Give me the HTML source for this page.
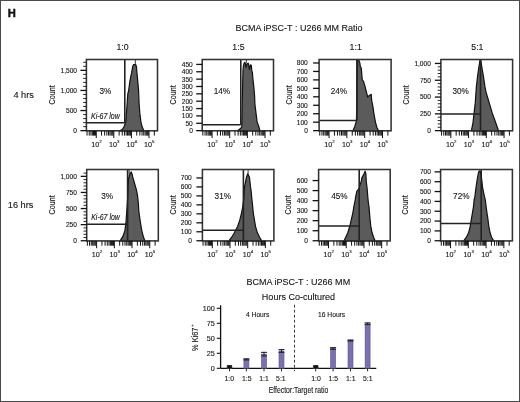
<!DOCTYPE html>
<html><head><meta charset="utf-8"><style>
html,body{margin:0;padding:0;background:#fff;}
body{width:520px;height:402px;overflow:hidden;}
svg{display:block;}
text{font-family:"Liberation Sans", sans-serif;}
</style></head><body>
<svg width="520" height="402" viewBox="0 0 520 402">
<rect x="0" y="0" width="520" height="402" fill="#fff"/>
<path d="M120.0,130.8 L122.5,129.2 L124.0,126.8 L125.8,121.9 L126.4,113.9 L127.1,104.0 L127.8,94.0 L128.6,91.0 L129.8,81.6 L131.7,72.2 L132.8,66.0 L133.6,64.6 L135.8,64.6 L136.5,67.0 L136.9,72.2 L137.8,81.6 L138.6,91.0 L139.1,104.0 L139.9,113.9 L140.9,121.9 L142.1,126.8 L143.9,130.8 Z" fill="#5b5b5b" stroke="#111" stroke-width="1.2" stroke-linejoin="round"/>
<line x1="86.40" y1="122.80" x2="124.80" y2="122.80" stroke="#222" stroke-width="1.5"/>
<line x1="124.80" y1="59.50" x2="124.80" y2="122.80" stroke="#222" stroke-width="1.6"/>
<line x1="135.30" y1="59.50" x2="135.30" y2="64.60" stroke="#222" stroke-width="0.9"/>
<rect x="86.40" y="59.50" width="71.10" height="71.30" fill="none" stroke="#333" stroke-width="1.55"/>
<line x1="80.40" y1="130.65" x2="86.40" y2="130.65" stroke="#111" stroke-width="1.3"/>
<line x1="83.20" y1="126.63" x2="86.40" y2="126.63" stroke="#111" stroke-width="0.9"/>
<line x1="83.20" y1="122.61" x2="86.40" y2="122.61" stroke="#111" stroke-width="0.9"/>
<line x1="83.20" y1="118.59" x2="86.40" y2="118.59" stroke="#111" stroke-width="0.9"/>
<line x1="83.20" y1="114.57" x2="86.40" y2="114.57" stroke="#111" stroke-width="0.9"/>
<line x1="80.40" y1="110.55" x2="86.40" y2="110.55" stroke="#111" stroke-width="1.3"/>
<line x1="83.20" y1="106.53" x2="86.40" y2="106.53" stroke="#111" stroke-width="0.9"/>
<line x1="83.20" y1="102.51" x2="86.40" y2="102.51" stroke="#111" stroke-width="0.9"/>
<line x1="83.20" y1="98.49" x2="86.40" y2="98.49" stroke="#111" stroke-width="0.9"/>
<line x1="83.20" y1="94.47" x2="86.40" y2="94.47" stroke="#111" stroke-width="0.9"/>
<line x1="80.40" y1="90.45" x2="86.40" y2="90.45" stroke="#111" stroke-width="1.3"/>
<line x1="83.20" y1="86.43" x2="86.40" y2="86.43" stroke="#111" stroke-width="0.9"/>
<line x1="83.20" y1="82.41" x2="86.40" y2="82.41" stroke="#111" stroke-width="0.9"/>
<line x1="83.20" y1="78.39" x2="86.40" y2="78.39" stroke="#111" stroke-width="0.9"/>
<line x1="83.20" y1="74.37" x2="86.40" y2="74.37" stroke="#111" stroke-width="0.9"/>
<line x1="80.40" y1="70.35" x2="86.40" y2="70.35" stroke="#111" stroke-width="1.3"/>
<line x1="83.20" y1="66.33" x2="86.40" y2="66.33" stroke="#111" stroke-width="0.9"/>
<line x1="83.20" y1="62.31" x2="86.40" y2="62.31" stroke="#111" stroke-width="0.9"/>
<line x1="87.05" y1="130.80" x2="87.05" y2="135.60" stroke="#111" stroke-width="1.0"/>
<line x1="89.24" y1="130.80" x2="89.24" y2="135.60" stroke="#111" stroke-width="1.0"/>
<line x1="90.95" y1="130.80" x2="90.95" y2="135.60" stroke="#111" stroke-width="1.0"/>
<line x1="92.34" y1="130.80" x2="92.34" y2="135.60" stroke="#111" stroke-width="1.0"/>
<line x1="93.52" y1="130.80" x2="93.52" y2="135.60" stroke="#111" stroke-width="1.0"/>
<line x1="94.54" y1="130.80" x2="94.54" y2="135.60" stroke="#111" stroke-width="1.0"/>
<line x1="95.44" y1="130.80" x2="95.44" y2="135.60" stroke="#111" stroke-width="1.0"/>
<line x1="96.25" y1="130.80" x2="96.25" y2="138.10" stroke="#111" stroke-width="1.0"/>
<line x1="101.54" y1="130.80" x2="101.54" y2="135.60" stroke="#111" stroke-width="1.0"/>
<line x1="104.64" y1="130.80" x2="104.64" y2="135.60" stroke="#111" stroke-width="1.0"/>
<line x1="106.84" y1="130.80" x2="106.84" y2="135.60" stroke="#111" stroke-width="1.0"/>
<line x1="108.55" y1="130.80" x2="108.55" y2="135.60" stroke="#111" stroke-width="1.0"/>
<line x1="109.94" y1="130.80" x2="109.94" y2="135.60" stroke="#111" stroke-width="1.0"/>
<line x1="111.12" y1="130.80" x2="111.12" y2="135.60" stroke="#111" stroke-width="1.0"/>
<line x1="112.14" y1="130.80" x2="112.14" y2="135.60" stroke="#111" stroke-width="1.0"/>
<line x1="113.04" y1="130.80" x2="113.04" y2="135.60" stroke="#111" stroke-width="1.0"/>
<line x1="113.84" y1="130.80" x2="113.84" y2="138.10" stroke="#111" stroke-width="1.0"/>
<line x1="119.14" y1="130.80" x2="119.14" y2="135.60" stroke="#111" stroke-width="1.0"/>
<line x1="122.24" y1="130.80" x2="122.24" y2="135.60" stroke="#111" stroke-width="1.0"/>
<line x1="124.44" y1="130.80" x2="124.44" y2="135.60" stroke="#111" stroke-width="1.0"/>
<line x1="126.14" y1="130.80" x2="126.14" y2="135.60" stroke="#111" stroke-width="1.0"/>
<line x1="127.54" y1="130.80" x2="127.54" y2="135.60" stroke="#111" stroke-width="1.0"/>
<line x1="128.72" y1="130.80" x2="128.72" y2="135.60" stroke="#111" stroke-width="1.0"/>
<line x1="129.74" y1="130.80" x2="129.74" y2="135.60" stroke="#111" stroke-width="1.0"/>
<line x1="130.64" y1="130.80" x2="130.64" y2="135.60" stroke="#111" stroke-width="1.0"/>
<line x1="131.44" y1="130.80" x2="131.44" y2="138.10" stroke="#111" stroke-width="1.0"/>
<line x1="136.74" y1="130.80" x2="136.74" y2="135.60" stroke="#111" stroke-width="1.0"/>
<line x1="139.84" y1="130.80" x2="139.84" y2="135.60" stroke="#111" stroke-width="1.0"/>
<line x1="142.04" y1="130.80" x2="142.04" y2="135.60" stroke="#111" stroke-width="1.0"/>
<line x1="143.74" y1="130.80" x2="143.74" y2="135.60" stroke="#111" stroke-width="1.0"/>
<line x1="145.14" y1="130.80" x2="145.14" y2="135.60" stroke="#111" stroke-width="1.0"/>
<line x1="146.31" y1="130.80" x2="146.31" y2="135.60" stroke="#111" stroke-width="1.0"/>
<line x1="147.33" y1="130.80" x2="147.33" y2="135.60" stroke="#111" stroke-width="1.0"/>
<line x1="148.23" y1="130.80" x2="148.23" y2="135.60" stroke="#111" stroke-width="1.0"/>
<line x1="149.04" y1="130.80" x2="149.04" y2="138.10" stroke="#111" stroke-width="1.0"/>
<line x1="154.34" y1="130.80" x2="154.34" y2="135.60" stroke="#111" stroke-width="1.0"/>
<path d="M237.5,130.8 L240.5,128.5 L241.8,126.8 L242.3,100.0 L243.0,70.0 L243.4,66.0 L244.2,63.0 L244.8,62.5 L245.4,63.5 L246.0,67.5 L246.5,65.5 L247.2,63.8 L248.2,63.2 L248.8,65.0 L249.4,69.5 L250.0,67.0 L250.6,64.8 L251.2,65.2 L251.6,68.0 L251.9,71.2 L252.4,72.5 L252.9,78.8 L253.8,86.3 L254.6,96.0 L254.9,104.0 L256.1,113.9 L257.1,121.9 L258.9,126.8 L260.0,130.8 Z" fill="#5b5b5b" stroke="#111" stroke-width="1.2" stroke-linejoin="round"/>
<line x1="202.20" y1="124.80" x2="240.80" y2="124.80" stroke="#222" stroke-width="1.5"/>
<line x1="240.80" y1="59.50" x2="240.80" y2="124.80" stroke="#222" stroke-width="1.6"/>
<line x1="246.30" y1="59.50" x2="246.30" y2="63.50" stroke="#222" stroke-width="0.9"/>
<rect x="202.20" y="59.50" width="71.30" height="71.30" fill="none" stroke="#333" stroke-width="1.55"/>
<line x1="196.20" y1="130.65" x2="202.20" y2="130.65" stroke="#111" stroke-width="1.3"/>
<line x1="196.20" y1="123.29" x2="202.20" y2="123.29" stroke="#111" stroke-width="1.3"/>
<line x1="196.20" y1="115.93" x2="202.20" y2="115.93" stroke="#111" stroke-width="1.3"/>
<line x1="196.20" y1="108.57" x2="202.20" y2="108.57" stroke="#111" stroke-width="1.3"/>
<line x1="196.20" y1="101.21" x2="202.20" y2="101.21" stroke="#111" stroke-width="1.3"/>
<line x1="196.20" y1="93.85" x2="202.20" y2="93.85" stroke="#111" stroke-width="1.3"/>
<line x1="196.20" y1="86.49" x2="202.20" y2="86.49" stroke="#111" stroke-width="1.3"/>
<line x1="196.20" y1="79.13" x2="202.20" y2="79.13" stroke="#111" stroke-width="1.3"/>
<line x1="196.20" y1="71.77" x2="202.20" y2="71.77" stroke="#111" stroke-width="1.3"/>
<line x1="196.20" y1="64.41" x2="202.20" y2="64.41" stroke="#111" stroke-width="1.3"/>
<line x1="202.85" y1="130.80" x2="202.85" y2="135.60" stroke="#111" stroke-width="1.0"/>
<line x1="205.05" y1="130.80" x2="205.05" y2="135.60" stroke="#111" stroke-width="1.0"/>
<line x1="206.76" y1="130.80" x2="206.76" y2="135.60" stroke="#111" stroke-width="1.0"/>
<line x1="208.16" y1="130.80" x2="208.16" y2="135.60" stroke="#111" stroke-width="1.0"/>
<line x1="209.34" y1="130.80" x2="209.34" y2="135.60" stroke="#111" stroke-width="1.0"/>
<line x1="210.36" y1="130.80" x2="210.36" y2="135.60" stroke="#111" stroke-width="1.0"/>
<line x1="211.27" y1="130.80" x2="211.27" y2="135.60" stroke="#111" stroke-width="1.0"/>
<line x1="212.08" y1="130.80" x2="212.08" y2="138.10" stroke="#111" stroke-width="1.0"/>
<line x1="217.39" y1="130.80" x2="217.39" y2="135.60" stroke="#111" stroke-width="1.0"/>
<line x1="220.49" y1="130.80" x2="220.49" y2="135.60" stroke="#111" stroke-width="1.0"/>
<line x1="222.70" y1="130.80" x2="222.70" y2="135.60" stroke="#111" stroke-width="1.0"/>
<line x1="224.41" y1="130.80" x2="224.41" y2="135.60" stroke="#111" stroke-width="1.0"/>
<line x1="225.81" y1="130.80" x2="225.81" y2="135.60" stroke="#111" stroke-width="1.0"/>
<line x1="226.99" y1="130.80" x2="226.99" y2="135.60" stroke="#111" stroke-width="1.0"/>
<line x1="228.01" y1="130.80" x2="228.01" y2="135.60" stroke="#111" stroke-width="1.0"/>
<line x1="228.91" y1="130.80" x2="228.91" y2="135.60" stroke="#111" stroke-width="1.0"/>
<line x1="229.72" y1="130.80" x2="229.72" y2="138.10" stroke="#111" stroke-width="1.0"/>
<line x1="235.03" y1="130.80" x2="235.03" y2="135.60" stroke="#111" stroke-width="1.0"/>
<line x1="238.14" y1="130.80" x2="238.14" y2="135.60" stroke="#111" stroke-width="1.0"/>
<line x1="240.35" y1="130.80" x2="240.35" y2="135.60" stroke="#111" stroke-width="1.0"/>
<line x1="242.06" y1="130.80" x2="242.06" y2="135.60" stroke="#111" stroke-width="1.0"/>
<line x1="243.45" y1="130.80" x2="243.45" y2="135.60" stroke="#111" stroke-width="1.0"/>
<line x1="244.64" y1="130.80" x2="244.64" y2="135.60" stroke="#111" stroke-width="1.0"/>
<line x1="245.66" y1="130.80" x2="245.66" y2="135.60" stroke="#111" stroke-width="1.0"/>
<line x1="246.56" y1="130.80" x2="246.56" y2="135.60" stroke="#111" stroke-width="1.0"/>
<line x1="247.37" y1="130.80" x2="247.37" y2="138.10" stroke="#111" stroke-width="1.0"/>
<line x1="252.68" y1="130.80" x2="252.68" y2="135.60" stroke="#111" stroke-width="1.0"/>
<line x1="255.79" y1="130.80" x2="255.79" y2="135.60" stroke="#111" stroke-width="1.0"/>
<line x1="257.99" y1="130.80" x2="257.99" y2="135.60" stroke="#111" stroke-width="1.0"/>
<line x1="259.70" y1="130.80" x2="259.70" y2="135.60" stroke="#111" stroke-width="1.0"/>
<line x1="261.10" y1="130.80" x2="261.10" y2="135.60" stroke="#111" stroke-width="1.0"/>
<line x1="262.28" y1="130.80" x2="262.28" y2="135.60" stroke="#111" stroke-width="1.0"/>
<line x1="263.31" y1="130.80" x2="263.31" y2="135.60" stroke="#111" stroke-width="1.0"/>
<line x1="264.21" y1="130.80" x2="264.21" y2="135.60" stroke="#111" stroke-width="1.0"/>
<line x1="265.02" y1="130.80" x2="265.02" y2="138.10" stroke="#111" stroke-width="1.0"/>
<line x1="270.33" y1="130.80" x2="270.33" y2="135.60" stroke="#111" stroke-width="1.0"/>
<path d="M352.9,130.8 L354.6,126.9 L356.4,121.2 L356.9,100.0 L357.1,75.0 L357.3,60.0 L358.6,59.8 L359.8,62.7 L360.3,66.5 L361.2,67.9 L361.7,73.1 L362.2,79.7 L363.6,81.6 L365.0,86.4 L366.6,92.6 L367.7,97.2 L368.5,96.0 L369.5,95.4 L371.2,94.3 L371.7,100.6 L372.9,106.3 L374.0,114.3 L375.5,122.3 L376.9,127.5 L378.6,130.8 Z" fill="#5b5b5b" stroke="#111" stroke-width="1.2" stroke-linejoin="round"/>
<line x1="319.10" y1="120.60" x2="356.90" y2="120.60" stroke="#222" stroke-width="1.5"/>
<line x1="356.90" y1="59.50" x2="356.90" y2="120.60" stroke="#222" stroke-width="1.6"/>
<rect x="319.10" y="59.50" width="72.00" height="71.30" fill="none" stroke="#333" stroke-width="1.55"/>
<line x1="313.10" y1="130.65" x2="319.10" y2="130.65" stroke="#111" stroke-width="1.3"/>
<line x1="313.10" y1="122.19" x2="319.10" y2="122.19" stroke="#111" stroke-width="1.3"/>
<line x1="313.10" y1="113.73" x2="319.10" y2="113.73" stroke="#111" stroke-width="1.3"/>
<line x1="313.10" y1="105.27" x2="319.10" y2="105.27" stroke="#111" stroke-width="1.3"/>
<line x1="313.10" y1="96.81" x2="319.10" y2="96.81" stroke="#111" stroke-width="1.3"/>
<line x1="313.10" y1="88.35" x2="319.10" y2="88.35" stroke="#111" stroke-width="1.3"/>
<line x1="313.10" y1="79.89" x2="319.10" y2="79.89" stroke="#111" stroke-width="1.3"/>
<line x1="313.10" y1="71.43" x2="319.10" y2="71.43" stroke="#111" stroke-width="1.3"/>
<line x1="313.10" y1="62.97" x2="319.10" y2="62.97" stroke="#111" stroke-width="1.3"/>
<line x1="319.75" y1="130.80" x2="319.75" y2="135.60" stroke="#111" stroke-width="1.0"/>
<line x1="321.98" y1="130.80" x2="321.98" y2="135.60" stroke="#111" stroke-width="1.0"/>
<line x1="323.71" y1="130.80" x2="323.71" y2="135.60" stroke="#111" stroke-width="1.0"/>
<line x1="325.12" y1="130.80" x2="325.12" y2="135.60" stroke="#111" stroke-width="1.0"/>
<line x1="326.31" y1="130.80" x2="326.31" y2="135.60" stroke="#111" stroke-width="1.0"/>
<line x1="327.35" y1="130.80" x2="327.35" y2="135.60" stroke="#111" stroke-width="1.0"/>
<line x1="328.26" y1="130.80" x2="328.26" y2="135.60" stroke="#111" stroke-width="1.0"/>
<line x1="329.07" y1="130.80" x2="329.07" y2="138.10" stroke="#111" stroke-width="1.0"/>
<line x1="334.44" y1="130.80" x2="334.44" y2="135.60" stroke="#111" stroke-width="1.0"/>
<line x1="337.57" y1="130.80" x2="337.57" y2="135.60" stroke="#111" stroke-width="1.0"/>
<line x1="339.80" y1="130.80" x2="339.80" y2="135.60" stroke="#111" stroke-width="1.0"/>
<line x1="341.53" y1="130.80" x2="341.53" y2="135.60" stroke="#111" stroke-width="1.0"/>
<line x1="342.94" y1="130.80" x2="342.94" y2="135.60" stroke="#111" stroke-width="1.0"/>
<line x1="344.13" y1="130.80" x2="344.13" y2="135.60" stroke="#111" stroke-width="1.0"/>
<line x1="345.17" y1="130.80" x2="345.17" y2="135.60" stroke="#111" stroke-width="1.0"/>
<line x1="346.08" y1="130.80" x2="346.08" y2="135.60" stroke="#111" stroke-width="1.0"/>
<line x1="346.89" y1="130.80" x2="346.89" y2="138.10" stroke="#111" stroke-width="1.0"/>
<line x1="352.26" y1="130.80" x2="352.26" y2="135.60" stroke="#111" stroke-width="1.0"/>
<line x1="355.39" y1="130.80" x2="355.39" y2="135.60" stroke="#111" stroke-width="1.0"/>
<line x1="357.62" y1="130.80" x2="357.62" y2="135.60" stroke="#111" stroke-width="1.0"/>
<line x1="359.35" y1="130.80" x2="359.35" y2="135.60" stroke="#111" stroke-width="1.0"/>
<line x1="360.76" y1="130.80" x2="360.76" y2="135.60" stroke="#111" stroke-width="1.0"/>
<line x1="361.95" y1="130.80" x2="361.95" y2="135.60" stroke="#111" stroke-width="1.0"/>
<line x1="362.99" y1="130.80" x2="362.99" y2="135.60" stroke="#111" stroke-width="1.0"/>
<line x1="363.90" y1="130.80" x2="363.90" y2="135.60" stroke="#111" stroke-width="1.0"/>
<line x1="364.71" y1="130.80" x2="364.71" y2="138.10" stroke="#111" stroke-width="1.0"/>
<line x1="370.08" y1="130.80" x2="370.08" y2="135.60" stroke="#111" stroke-width="1.0"/>
<line x1="373.21" y1="130.80" x2="373.21" y2="135.60" stroke="#111" stroke-width="1.0"/>
<line x1="375.44" y1="130.80" x2="375.44" y2="135.60" stroke="#111" stroke-width="1.0"/>
<line x1="377.17" y1="130.80" x2="377.17" y2="135.60" stroke="#111" stroke-width="1.0"/>
<line x1="378.58" y1="130.80" x2="378.58" y2="135.60" stroke="#111" stroke-width="1.0"/>
<line x1="379.77" y1="130.80" x2="379.77" y2="135.60" stroke="#111" stroke-width="1.0"/>
<line x1="380.81" y1="130.80" x2="380.81" y2="135.60" stroke="#111" stroke-width="1.0"/>
<line x1="381.72" y1="130.80" x2="381.72" y2="135.60" stroke="#111" stroke-width="1.0"/>
<line x1="382.53" y1="130.80" x2="382.53" y2="138.10" stroke="#111" stroke-width="1.0"/>
<line x1="387.90" y1="130.80" x2="387.90" y2="135.60" stroke="#111" stroke-width="1.0"/>
<path d="M471.3,130.8 L472.9,123.3 L474.1,112.9 L475.3,102.4 L476.0,92.0 L476.4,86.4 L477.5,76.9 L478.8,67.5 L480.0,60.0 L480.8,60.0 L481.9,67.5 L483.5,76.9 L484.9,86.4 L486.2,93.0 L487.3,96.5 L489.1,102.4 L492.2,112.9 L495.9,123.3 L498.5,130.8 Z" fill="#5b5b5b" stroke="#111" stroke-width="1.2" stroke-linejoin="round"/>
<line x1="440.90" y1="114.10" x2="480.50" y2="114.10" stroke="#222" stroke-width="1.5"/>
<line x1="480.50" y1="59.50" x2="480.50" y2="130.80" stroke="#222" stroke-width="1.6"/>
<rect x="440.90" y="59.50" width="71.70" height="71.30" fill="none" stroke="#333" stroke-width="1.55"/>
<line x1="434.90" y1="130.65" x2="440.90" y2="130.65" stroke="#111" stroke-width="1.3"/>
<line x1="437.70" y1="127.29" x2="440.90" y2="127.29" stroke="#111" stroke-width="0.9"/>
<line x1="437.70" y1="123.93" x2="440.90" y2="123.93" stroke="#111" stroke-width="0.9"/>
<line x1="437.70" y1="120.57" x2="440.90" y2="120.57" stroke="#111" stroke-width="0.9"/>
<line x1="437.70" y1="117.21" x2="440.90" y2="117.21" stroke="#111" stroke-width="0.9"/>
<line x1="434.90" y1="113.85" x2="440.90" y2="113.85" stroke="#111" stroke-width="1.3"/>
<line x1="437.70" y1="110.49" x2="440.90" y2="110.49" stroke="#111" stroke-width="0.9"/>
<line x1="437.70" y1="107.13" x2="440.90" y2="107.13" stroke="#111" stroke-width="0.9"/>
<line x1="437.70" y1="103.77" x2="440.90" y2="103.77" stroke="#111" stroke-width="0.9"/>
<line x1="437.70" y1="100.41" x2="440.90" y2="100.41" stroke="#111" stroke-width="0.9"/>
<line x1="434.90" y1="97.05" x2="440.90" y2="97.05" stroke="#111" stroke-width="1.3"/>
<line x1="437.70" y1="93.69" x2="440.90" y2="93.69" stroke="#111" stroke-width="0.9"/>
<line x1="437.70" y1="90.33" x2="440.90" y2="90.33" stroke="#111" stroke-width="0.9"/>
<line x1="437.70" y1="86.97" x2="440.90" y2="86.97" stroke="#111" stroke-width="0.9"/>
<line x1="437.70" y1="83.61" x2="440.90" y2="83.61" stroke="#111" stroke-width="0.9"/>
<line x1="434.90" y1="80.25" x2="440.90" y2="80.25" stroke="#111" stroke-width="1.3"/>
<line x1="437.70" y1="76.89" x2="440.90" y2="76.89" stroke="#111" stroke-width="0.9"/>
<line x1="437.70" y1="73.53" x2="440.90" y2="73.53" stroke="#111" stroke-width="0.9"/>
<line x1="437.70" y1="70.17" x2="440.90" y2="70.17" stroke="#111" stroke-width="0.9"/>
<line x1="437.70" y1="66.81" x2="440.90" y2="66.81" stroke="#111" stroke-width="0.9"/>
<line x1="434.90" y1="63.45" x2="440.90" y2="63.45" stroke="#111" stroke-width="1.3"/>
<line x1="441.55" y1="130.80" x2="441.55" y2="135.60" stroke="#111" stroke-width="1.0"/>
<line x1="443.77" y1="130.80" x2="443.77" y2="135.60" stroke="#111" stroke-width="1.0"/>
<line x1="445.49" y1="130.80" x2="445.49" y2="135.60" stroke="#111" stroke-width="1.0"/>
<line x1="446.89" y1="130.80" x2="446.89" y2="135.60" stroke="#111" stroke-width="1.0"/>
<line x1="448.08" y1="130.80" x2="448.08" y2="135.60" stroke="#111" stroke-width="1.0"/>
<line x1="449.11" y1="130.80" x2="449.11" y2="135.60" stroke="#111" stroke-width="1.0"/>
<line x1="450.02" y1="130.80" x2="450.02" y2="135.60" stroke="#111" stroke-width="1.0"/>
<line x1="450.83" y1="130.80" x2="450.83" y2="138.10" stroke="#111" stroke-width="1.0"/>
<line x1="456.17" y1="130.80" x2="456.17" y2="135.60" stroke="#111" stroke-width="1.0"/>
<line x1="459.30" y1="130.80" x2="459.30" y2="135.60" stroke="#111" stroke-width="1.0"/>
<line x1="461.51" y1="130.80" x2="461.51" y2="135.60" stroke="#111" stroke-width="1.0"/>
<line x1="463.23" y1="130.80" x2="463.23" y2="135.60" stroke="#111" stroke-width="1.0"/>
<line x1="464.64" y1="130.80" x2="464.64" y2="135.60" stroke="#111" stroke-width="1.0"/>
<line x1="465.83" y1="130.80" x2="465.83" y2="135.60" stroke="#111" stroke-width="1.0"/>
<line x1="466.86" y1="130.80" x2="466.86" y2="135.60" stroke="#111" stroke-width="1.0"/>
<line x1="467.76" y1="130.80" x2="467.76" y2="135.60" stroke="#111" stroke-width="1.0"/>
<line x1="468.58" y1="130.80" x2="468.58" y2="138.10" stroke="#111" stroke-width="1.0"/>
<line x1="473.92" y1="130.80" x2="473.92" y2="135.60" stroke="#111" stroke-width="1.0"/>
<line x1="477.04" y1="130.80" x2="477.04" y2="135.60" stroke="#111" stroke-width="1.0"/>
<line x1="479.26" y1="130.80" x2="479.26" y2="135.60" stroke="#111" stroke-width="1.0"/>
<line x1="480.98" y1="130.80" x2="480.98" y2="135.60" stroke="#111" stroke-width="1.0"/>
<line x1="482.39" y1="130.80" x2="482.39" y2="135.60" stroke="#111" stroke-width="1.0"/>
<line x1="483.57" y1="130.80" x2="483.57" y2="135.60" stroke="#111" stroke-width="1.0"/>
<line x1="484.60" y1="130.80" x2="484.60" y2="135.60" stroke="#111" stroke-width="1.0"/>
<line x1="485.51" y1="130.80" x2="485.51" y2="135.60" stroke="#111" stroke-width="1.0"/>
<line x1="486.32" y1="130.80" x2="486.32" y2="138.10" stroke="#111" stroke-width="1.0"/>
<line x1="491.66" y1="130.80" x2="491.66" y2="135.60" stroke="#111" stroke-width="1.0"/>
<line x1="494.79" y1="130.80" x2="494.79" y2="135.60" stroke="#111" stroke-width="1.0"/>
<line x1="497.01" y1="130.80" x2="497.01" y2="135.60" stroke="#111" stroke-width="1.0"/>
<line x1="498.73" y1="130.80" x2="498.73" y2="135.60" stroke="#111" stroke-width="1.0"/>
<line x1="500.13" y1="130.80" x2="500.13" y2="135.60" stroke="#111" stroke-width="1.0"/>
<line x1="501.32" y1="130.80" x2="501.32" y2="135.60" stroke="#111" stroke-width="1.0"/>
<line x1="502.35" y1="130.80" x2="502.35" y2="135.60" stroke="#111" stroke-width="1.0"/>
<line x1="503.26" y1="130.80" x2="503.26" y2="135.60" stroke="#111" stroke-width="1.0"/>
<line x1="504.07" y1="130.80" x2="504.07" y2="138.10" stroke="#111" stroke-width="1.0"/>
<line x1="509.41" y1="130.80" x2="509.41" y2="135.60" stroke="#111" stroke-width="1.0"/>
<path d="M120.2,240.9 L123.0,236.1 L124.9,230.7 L126.0,221.9 L126.8,211.0 L127.3,204.0 L127.8,195.0 L128.2,185.0 L128.6,178.0 L129.5,175.5 L130.5,172.8 L131.3,172.0 L132.2,174.5 L132.8,177.5 L133.6,180.0 L135.3,186.0 L136.5,190.1 L137.4,194.9 L138.0,199.7 L138.4,204.0 L138.8,211.0 L140.3,221.9 L141.8,230.7 L143.2,236.1 L144.9,240.9 Z" fill="#5b5b5b" stroke="#111" stroke-width="1.2" stroke-linejoin="round"/>
<line x1="86.70" y1="224.20" x2="127.60" y2="224.20" stroke="#222" stroke-width="1.5"/>
<line x1="127.60" y1="169.50" x2="127.60" y2="240.90" stroke="#222" stroke-width="1.6"/>
<line x1="129.20" y1="169.50" x2="129.20" y2="176.00" stroke="#222" stroke-width="0.9"/>
<rect x="86.70" y="169.50" width="71.60" height="71.40" fill="none" stroke="#333" stroke-width="1.55"/>
<line x1="80.70" y1="240.75" x2="86.70" y2="240.75" stroke="#111" stroke-width="1.3"/>
<line x1="83.50" y1="237.53" x2="86.70" y2="237.53" stroke="#111" stroke-width="0.9"/>
<line x1="83.50" y1="234.31" x2="86.70" y2="234.31" stroke="#111" stroke-width="0.9"/>
<line x1="83.50" y1="231.09" x2="86.70" y2="231.09" stroke="#111" stroke-width="0.9"/>
<line x1="83.50" y1="227.87" x2="86.70" y2="227.87" stroke="#111" stroke-width="0.9"/>
<line x1="80.70" y1="224.65" x2="86.70" y2="224.65" stroke="#111" stroke-width="1.3"/>
<line x1="83.50" y1="221.43" x2="86.70" y2="221.43" stroke="#111" stroke-width="0.9"/>
<line x1="83.50" y1="218.21" x2="86.70" y2="218.21" stroke="#111" stroke-width="0.9"/>
<line x1="83.50" y1="214.99" x2="86.70" y2="214.99" stroke="#111" stroke-width="0.9"/>
<line x1="83.50" y1="211.77" x2="86.70" y2="211.77" stroke="#111" stroke-width="0.9"/>
<line x1="80.70" y1="208.55" x2="86.70" y2="208.55" stroke="#111" stroke-width="1.3"/>
<line x1="83.50" y1="205.33" x2="86.70" y2="205.33" stroke="#111" stroke-width="0.9"/>
<line x1="83.50" y1="202.11" x2="86.70" y2="202.11" stroke="#111" stroke-width="0.9"/>
<line x1="83.50" y1="198.89" x2="86.70" y2="198.89" stroke="#111" stroke-width="0.9"/>
<line x1="83.50" y1="195.67" x2="86.70" y2="195.67" stroke="#111" stroke-width="0.9"/>
<line x1="80.70" y1="192.45" x2="86.70" y2="192.45" stroke="#111" stroke-width="1.3"/>
<line x1="83.50" y1="189.23" x2="86.70" y2="189.23" stroke="#111" stroke-width="0.9"/>
<line x1="83.50" y1="186.01" x2="86.70" y2="186.01" stroke="#111" stroke-width="0.9"/>
<line x1="83.50" y1="182.79" x2="86.70" y2="182.79" stroke="#111" stroke-width="0.9"/>
<line x1="83.50" y1="179.57" x2="86.70" y2="179.57" stroke="#111" stroke-width="0.9"/>
<line x1="80.70" y1="176.35" x2="86.70" y2="176.35" stroke="#111" stroke-width="1.3"/>
<line x1="83.50" y1="173.13" x2="86.70" y2="173.13" stroke="#111" stroke-width="0.9"/>
<line x1="87.35" y1="240.90" x2="87.35" y2="245.70" stroke="#111" stroke-width="1.0"/>
<line x1="89.56" y1="240.90" x2="89.56" y2="245.70" stroke="#111" stroke-width="1.0"/>
<line x1="91.28" y1="240.90" x2="91.28" y2="245.70" stroke="#111" stroke-width="1.0"/>
<line x1="92.69" y1="240.90" x2="92.69" y2="245.70" stroke="#111" stroke-width="1.0"/>
<line x1="93.87" y1="240.90" x2="93.87" y2="245.70" stroke="#111" stroke-width="1.0"/>
<line x1="94.90" y1="240.90" x2="94.90" y2="245.70" stroke="#111" stroke-width="1.0"/>
<line x1="95.81" y1="240.90" x2="95.81" y2="245.70" stroke="#111" stroke-width="1.0"/>
<line x1="96.62" y1="240.90" x2="96.62" y2="248.20" stroke="#111" stroke-width="1.0"/>
<line x1="101.95" y1="240.90" x2="101.95" y2="245.70" stroke="#111" stroke-width="1.0"/>
<line x1="105.07" y1="240.90" x2="105.07" y2="245.70" stroke="#111" stroke-width="1.0"/>
<line x1="107.29" y1="240.90" x2="107.29" y2="245.70" stroke="#111" stroke-width="1.0"/>
<line x1="109.00" y1="240.90" x2="109.00" y2="245.70" stroke="#111" stroke-width="1.0"/>
<line x1="110.41" y1="240.90" x2="110.41" y2="245.70" stroke="#111" stroke-width="1.0"/>
<line x1="111.59" y1="240.90" x2="111.59" y2="245.70" stroke="#111" stroke-width="1.0"/>
<line x1="112.62" y1="240.90" x2="112.62" y2="245.70" stroke="#111" stroke-width="1.0"/>
<line x1="113.53" y1="240.90" x2="113.53" y2="245.70" stroke="#111" stroke-width="1.0"/>
<line x1="114.34" y1="240.90" x2="114.34" y2="248.20" stroke="#111" stroke-width="1.0"/>
<line x1="119.67" y1="240.90" x2="119.67" y2="245.70" stroke="#111" stroke-width="1.0"/>
<line x1="122.79" y1="240.90" x2="122.79" y2="245.70" stroke="#111" stroke-width="1.0"/>
<line x1="125.01" y1="240.90" x2="125.01" y2="245.70" stroke="#111" stroke-width="1.0"/>
<line x1="126.72" y1="240.90" x2="126.72" y2="245.70" stroke="#111" stroke-width="1.0"/>
<line x1="128.13" y1="240.90" x2="128.13" y2="245.70" stroke="#111" stroke-width="1.0"/>
<line x1="129.31" y1="240.90" x2="129.31" y2="245.70" stroke="#111" stroke-width="1.0"/>
<line x1="130.34" y1="240.90" x2="130.34" y2="245.70" stroke="#111" stroke-width="1.0"/>
<line x1="131.25" y1="240.90" x2="131.25" y2="245.70" stroke="#111" stroke-width="1.0"/>
<line x1="132.06" y1="240.90" x2="132.06" y2="248.20" stroke="#111" stroke-width="1.0"/>
<line x1="137.39" y1="240.90" x2="137.39" y2="245.70" stroke="#111" stroke-width="1.0"/>
<line x1="140.51" y1="240.90" x2="140.51" y2="245.70" stroke="#111" stroke-width="1.0"/>
<line x1="142.73" y1="240.90" x2="142.73" y2="245.70" stroke="#111" stroke-width="1.0"/>
<line x1="144.45" y1="240.90" x2="144.45" y2="245.70" stroke="#111" stroke-width="1.0"/>
<line x1="145.85" y1="240.90" x2="145.85" y2="245.70" stroke="#111" stroke-width="1.0"/>
<line x1="147.03" y1="240.90" x2="147.03" y2="245.70" stroke="#111" stroke-width="1.0"/>
<line x1="148.06" y1="240.90" x2="148.06" y2="245.70" stroke="#111" stroke-width="1.0"/>
<line x1="148.97" y1="240.90" x2="148.97" y2="245.70" stroke="#111" stroke-width="1.0"/>
<line x1="149.78" y1="240.90" x2="149.78" y2="248.20" stroke="#111" stroke-width="1.0"/>
<line x1="155.11" y1="240.90" x2="155.11" y2="245.70" stroke="#111" stroke-width="1.0"/>
<path d="M228.9,240.9 L231.7,237.2 L234.4,232.8 L237.7,226.3 L239.9,219.7 L241.5,213.1 L242.8,206.6 L243.6,200.0 L244.5,186.9 L245.5,182.2 L246.4,177.5 L247.8,173.7 L249.5,177.5 L250.5,186.9 L251.2,191.6 L251.6,196.4 L252.1,201.0 L252.7,206.6 L253.3,213.1 L254.4,219.7 L255.5,226.3 L257.4,232.8 L259.6,237.2 L261.7,240.9 Z" fill="#5b5b5b" stroke="#111" stroke-width="1.2" stroke-linejoin="round"/>
<line x1="202.40" y1="230.20" x2="243.40" y2="230.20" stroke="#222" stroke-width="1.5"/>
<line x1="243.40" y1="169.50" x2="243.40" y2="240.90" stroke="#222" stroke-width="1.6"/>
<line x1="248.10" y1="169.50" x2="248.10" y2="173.70" stroke="#222" stroke-width="0.9"/>
<rect x="202.40" y="169.50" width="71.50" height="71.40" fill="none" stroke="#333" stroke-width="1.55"/>
<line x1="196.40" y1="240.75" x2="202.40" y2="240.75" stroke="#111" stroke-width="1.3"/>
<line x1="196.40" y1="231.78" x2="202.40" y2="231.78" stroke="#111" stroke-width="1.3"/>
<line x1="196.40" y1="222.81" x2="202.40" y2="222.81" stroke="#111" stroke-width="1.3"/>
<line x1="196.40" y1="213.84" x2="202.40" y2="213.84" stroke="#111" stroke-width="1.3"/>
<line x1="196.40" y1="204.87" x2="202.40" y2="204.87" stroke="#111" stroke-width="1.3"/>
<line x1="196.40" y1="195.90" x2="202.40" y2="195.90" stroke="#111" stroke-width="1.3"/>
<line x1="196.40" y1="186.93" x2="202.40" y2="186.93" stroke="#111" stroke-width="1.3"/>
<line x1="196.40" y1="177.96" x2="202.40" y2="177.96" stroke="#111" stroke-width="1.3"/>
<line x1="203.05" y1="240.90" x2="203.05" y2="245.70" stroke="#111" stroke-width="1.0"/>
<line x1="205.26" y1="240.90" x2="205.26" y2="245.70" stroke="#111" stroke-width="1.0"/>
<line x1="206.98" y1="240.90" x2="206.98" y2="245.70" stroke="#111" stroke-width="1.0"/>
<line x1="208.38" y1="240.90" x2="208.38" y2="245.70" stroke="#111" stroke-width="1.0"/>
<line x1="209.56" y1="240.90" x2="209.56" y2="245.70" stroke="#111" stroke-width="1.0"/>
<line x1="210.59" y1="240.90" x2="210.59" y2="245.70" stroke="#111" stroke-width="1.0"/>
<line x1="211.49" y1="240.90" x2="211.49" y2="245.70" stroke="#111" stroke-width="1.0"/>
<line x1="212.30" y1="240.90" x2="212.30" y2="248.20" stroke="#111" stroke-width="1.0"/>
<line x1="217.63" y1="240.90" x2="217.63" y2="245.70" stroke="#111" stroke-width="1.0"/>
<line x1="220.75" y1="240.90" x2="220.75" y2="245.70" stroke="#111" stroke-width="1.0"/>
<line x1="222.96" y1="240.90" x2="222.96" y2="245.70" stroke="#111" stroke-width="1.0"/>
<line x1="224.67" y1="240.90" x2="224.67" y2="245.70" stroke="#111" stroke-width="1.0"/>
<line x1="226.07" y1="240.90" x2="226.07" y2="245.70" stroke="#111" stroke-width="1.0"/>
<line x1="227.26" y1="240.90" x2="227.26" y2="245.70" stroke="#111" stroke-width="1.0"/>
<line x1="228.28" y1="240.90" x2="228.28" y2="245.70" stroke="#111" stroke-width="1.0"/>
<line x1="229.19" y1="240.90" x2="229.19" y2="245.70" stroke="#111" stroke-width="1.0"/>
<line x1="230.00" y1="240.90" x2="230.00" y2="248.20" stroke="#111" stroke-width="1.0"/>
<line x1="235.33" y1="240.90" x2="235.33" y2="245.70" stroke="#111" stroke-width="1.0"/>
<line x1="238.44" y1="240.90" x2="238.44" y2="245.70" stroke="#111" stroke-width="1.0"/>
<line x1="240.65" y1="240.90" x2="240.65" y2="245.70" stroke="#111" stroke-width="1.0"/>
<line x1="242.37" y1="240.90" x2="242.37" y2="245.70" stroke="#111" stroke-width="1.0"/>
<line x1="243.77" y1="240.90" x2="243.77" y2="245.70" stroke="#111" stroke-width="1.0"/>
<line x1="244.95" y1="240.90" x2="244.95" y2="245.70" stroke="#111" stroke-width="1.0"/>
<line x1="245.98" y1="240.90" x2="245.98" y2="245.70" stroke="#111" stroke-width="1.0"/>
<line x1="246.89" y1="240.90" x2="246.89" y2="245.70" stroke="#111" stroke-width="1.0"/>
<line x1="247.70" y1="240.90" x2="247.70" y2="248.20" stroke="#111" stroke-width="1.0"/>
<line x1="253.02" y1="240.90" x2="253.02" y2="245.70" stroke="#111" stroke-width="1.0"/>
<line x1="256.14" y1="240.90" x2="256.14" y2="245.70" stroke="#111" stroke-width="1.0"/>
<line x1="258.35" y1="240.90" x2="258.35" y2="245.70" stroke="#111" stroke-width="1.0"/>
<line x1="260.06" y1="240.90" x2="260.06" y2="245.70" stroke="#111" stroke-width="1.0"/>
<line x1="261.47" y1="240.90" x2="261.47" y2="245.70" stroke="#111" stroke-width="1.0"/>
<line x1="262.65" y1="240.90" x2="262.65" y2="245.70" stroke="#111" stroke-width="1.0"/>
<line x1="263.68" y1="240.90" x2="263.68" y2="245.70" stroke="#111" stroke-width="1.0"/>
<line x1="264.58" y1="240.90" x2="264.58" y2="245.70" stroke="#111" stroke-width="1.0"/>
<line x1="265.39" y1="240.90" x2="265.39" y2="248.20" stroke="#111" stroke-width="1.0"/>
<line x1="270.72" y1="240.90" x2="270.72" y2="245.70" stroke="#111" stroke-width="1.0"/>
<path d="M344.0,240.9 L345.7,237.2 L347.8,232.8 L349.8,226.3 L351.3,219.7 L352.8,213.1 L353.9,206.6 L355.2,200.0 L355.8,196.0 L356.8,191.4 L358.0,189.8 L359.3,188.0 L359.9,185.1 L360.3,184.3 L361.5,180.3 L361.8,177.9 L362.3,177.1 L363.9,174.0 L365.1,171.2 L365.9,174.0 L366.3,181.9 L367.1,188.3 L367.9,198.0 L368.4,203.0 L369.0,206.6 L369.5,213.1 L370.1,219.7 L370.8,226.3 L372.1,232.8 L373.6,237.2 L375.2,240.9 Z" fill="#5b5b5b" stroke="#111" stroke-width="1.2" stroke-linejoin="round"/>
<line x1="318.60" y1="226.10" x2="359.20" y2="226.10" stroke="#222" stroke-width="1.5"/>
<line x1="359.20" y1="169.50" x2="359.20" y2="240.90" stroke="#222" stroke-width="1.6"/>
<rect x="318.60" y="169.50" width="71.60" height="71.40" fill="none" stroke="#333" stroke-width="1.55"/>
<line x1="312.60" y1="240.75" x2="318.60" y2="240.75" stroke="#111" stroke-width="1.3"/>
<line x1="312.60" y1="230.72" x2="318.60" y2="230.72" stroke="#111" stroke-width="1.3"/>
<line x1="312.60" y1="220.69" x2="318.60" y2="220.69" stroke="#111" stroke-width="1.3"/>
<line x1="312.60" y1="210.66" x2="318.60" y2="210.66" stroke="#111" stroke-width="1.3"/>
<line x1="312.60" y1="200.63" x2="318.60" y2="200.63" stroke="#111" stroke-width="1.3"/>
<line x1="312.60" y1="190.60" x2="318.60" y2="190.60" stroke="#111" stroke-width="1.3"/>
<line x1="312.60" y1="180.57" x2="318.60" y2="180.57" stroke="#111" stroke-width="1.3"/>
<line x1="319.25" y1="240.90" x2="319.25" y2="245.70" stroke="#111" stroke-width="1.0"/>
<line x1="321.46" y1="240.90" x2="321.46" y2="245.70" stroke="#111" stroke-width="1.0"/>
<line x1="323.18" y1="240.90" x2="323.18" y2="245.70" stroke="#111" stroke-width="1.0"/>
<line x1="324.59" y1="240.90" x2="324.59" y2="245.70" stroke="#111" stroke-width="1.0"/>
<line x1="325.77" y1="240.90" x2="325.77" y2="245.70" stroke="#111" stroke-width="1.0"/>
<line x1="326.80" y1="240.90" x2="326.80" y2="245.70" stroke="#111" stroke-width="1.0"/>
<line x1="327.71" y1="240.90" x2="327.71" y2="245.70" stroke="#111" stroke-width="1.0"/>
<line x1="328.52" y1="240.90" x2="328.52" y2="248.20" stroke="#111" stroke-width="1.0"/>
<line x1="333.85" y1="240.90" x2="333.85" y2="245.70" stroke="#111" stroke-width="1.0"/>
<line x1="336.97" y1="240.90" x2="336.97" y2="245.70" stroke="#111" stroke-width="1.0"/>
<line x1="339.19" y1="240.90" x2="339.19" y2="245.70" stroke="#111" stroke-width="1.0"/>
<line x1="340.90" y1="240.90" x2="340.90" y2="245.70" stroke="#111" stroke-width="1.0"/>
<line x1="342.31" y1="240.90" x2="342.31" y2="245.70" stroke="#111" stroke-width="1.0"/>
<line x1="343.49" y1="240.90" x2="343.49" y2="245.70" stroke="#111" stroke-width="1.0"/>
<line x1="344.52" y1="240.90" x2="344.52" y2="245.70" stroke="#111" stroke-width="1.0"/>
<line x1="345.43" y1="240.90" x2="345.43" y2="245.70" stroke="#111" stroke-width="1.0"/>
<line x1="346.24" y1="240.90" x2="346.24" y2="248.20" stroke="#111" stroke-width="1.0"/>
<line x1="351.57" y1="240.90" x2="351.57" y2="245.70" stroke="#111" stroke-width="1.0"/>
<line x1="354.69" y1="240.90" x2="354.69" y2="245.70" stroke="#111" stroke-width="1.0"/>
<line x1="356.91" y1="240.90" x2="356.91" y2="245.70" stroke="#111" stroke-width="1.0"/>
<line x1="358.62" y1="240.90" x2="358.62" y2="245.70" stroke="#111" stroke-width="1.0"/>
<line x1="360.03" y1="240.90" x2="360.03" y2="245.70" stroke="#111" stroke-width="1.0"/>
<line x1="361.21" y1="240.90" x2="361.21" y2="245.70" stroke="#111" stroke-width="1.0"/>
<line x1="362.24" y1="240.90" x2="362.24" y2="245.70" stroke="#111" stroke-width="1.0"/>
<line x1="363.15" y1="240.90" x2="363.15" y2="245.70" stroke="#111" stroke-width="1.0"/>
<line x1="363.96" y1="240.90" x2="363.96" y2="248.20" stroke="#111" stroke-width="1.0"/>
<line x1="369.29" y1="240.90" x2="369.29" y2="245.70" stroke="#111" stroke-width="1.0"/>
<line x1="372.41" y1="240.90" x2="372.41" y2="245.70" stroke="#111" stroke-width="1.0"/>
<line x1="374.63" y1="240.90" x2="374.63" y2="245.70" stroke="#111" stroke-width="1.0"/>
<line x1="376.35" y1="240.90" x2="376.35" y2="245.70" stroke="#111" stroke-width="1.0"/>
<line x1="377.75" y1="240.90" x2="377.75" y2="245.70" stroke="#111" stroke-width="1.0"/>
<line x1="378.93" y1="240.90" x2="378.93" y2="245.70" stroke="#111" stroke-width="1.0"/>
<line x1="379.96" y1="240.90" x2="379.96" y2="245.70" stroke="#111" stroke-width="1.0"/>
<line x1="380.87" y1="240.90" x2="380.87" y2="245.70" stroke="#111" stroke-width="1.0"/>
<line x1="381.68" y1="240.90" x2="381.68" y2="248.20" stroke="#111" stroke-width="1.0"/>
<line x1="387.01" y1="240.90" x2="387.01" y2="245.70" stroke="#111" stroke-width="1.0"/>
<path d="M463.7,240.9 L466.4,237.2 L468.6,232.8 L470.2,226.3 L471.3,219.7 L472.4,213.1 L473.5,206.6 L474.1,200.0 L474.9,196.4 L476.1,186.9 L477.5,177.5 L478.5,172.5 L479.4,170.8 L480.5,172.0 L481.5,177.5 L482.5,186.9 L483.4,191.6 L484.4,196.4 L485.3,200.0 L486.1,206.6 L487.0,213.1 L488.0,219.7 L488.8,226.3 L490.1,232.8 L491.6,237.2 L493.7,240.9 Z" fill="#5b5b5b" stroke="#111" stroke-width="1.2" stroke-linejoin="round"/>
<line x1="440.60" y1="223.40" x2="481.20" y2="223.40" stroke="#222" stroke-width="1.5"/>
<line x1="481.20" y1="169.50" x2="481.20" y2="240.90" stroke="#222" stroke-width="1.6"/>
<rect x="440.60" y="169.50" width="71.80" height="71.40" fill="none" stroke="#333" stroke-width="1.55"/>
<line x1="434.60" y1="240.75" x2="440.60" y2="240.75" stroke="#111" stroke-width="1.3"/>
<line x1="434.60" y1="230.91" x2="440.60" y2="230.91" stroke="#111" stroke-width="1.3"/>
<line x1="434.60" y1="221.07" x2="440.60" y2="221.07" stroke="#111" stroke-width="1.3"/>
<line x1="434.60" y1="211.23" x2="440.60" y2="211.23" stroke="#111" stroke-width="1.3"/>
<line x1="434.60" y1="201.39" x2="440.60" y2="201.39" stroke="#111" stroke-width="1.3"/>
<line x1="434.60" y1="191.55" x2="440.60" y2="191.55" stroke="#111" stroke-width="1.3"/>
<line x1="434.60" y1="181.71" x2="440.60" y2="181.71" stroke="#111" stroke-width="1.3"/>
<line x1="434.60" y1="171.87" x2="440.60" y2="171.87" stroke="#111" stroke-width="1.3"/>
<line x1="441.25" y1="240.90" x2="441.25" y2="245.70" stroke="#111" stroke-width="1.0"/>
<line x1="443.47" y1="240.90" x2="443.47" y2="245.70" stroke="#111" stroke-width="1.0"/>
<line x1="445.19" y1="240.90" x2="445.19" y2="245.70" stroke="#111" stroke-width="1.0"/>
<line x1="446.60" y1="240.90" x2="446.60" y2="245.70" stroke="#111" stroke-width="1.0"/>
<line x1="447.79" y1="240.90" x2="447.79" y2="245.70" stroke="#111" stroke-width="1.0"/>
<line x1="448.82" y1="240.90" x2="448.82" y2="245.70" stroke="#111" stroke-width="1.0"/>
<line x1="449.73" y1="240.90" x2="449.73" y2="245.70" stroke="#111" stroke-width="1.0"/>
<line x1="450.54" y1="240.90" x2="450.54" y2="248.20" stroke="#111" stroke-width="1.0"/>
<line x1="455.89" y1="240.90" x2="455.89" y2="245.70" stroke="#111" stroke-width="1.0"/>
<line x1="459.02" y1="240.90" x2="459.02" y2="245.70" stroke="#111" stroke-width="1.0"/>
<line x1="461.24" y1="240.90" x2="461.24" y2="245.70" stroke="#111" stroke-width="1.0"/>
<line x1="462.97" y1="240.90" x2="462.97" y2="245.70" stroke="#111" stroke-width="1.0"/>
<line x1="464.37" y1="240.90" x2="464.37" y2="245.70" stroke="#111" stroke-width="1.0"/>
<line x1="465.56" y1="240.90" x2="465.56" y2="245.70" stroke="#111" stroke-width="1.0"/>
<line x1="466.59" y1="240.90" x2="466.59" y2="245.70" stroke="#111" stroke-width="1.0"/>
<line x1="467.50" y1="240.90" x2="467.50" y2="245.70" stroke="#111" stroke-width="1.0"/>
<line x1="468.31" y1="240.90" x2="468.31" y2="248.20" stroke="#111" stroke-width="1.0"/>
<line x1="473.66" y1="240.90" x2="473.66" y2="245.70" stroke="#111" stroke-width="1.0"/>
<line x1="476.79" y1="240.90" x2="476.79" y2="245.70" stroke="#111" stroke-width="1.0"/>
<line x1="479.01" y1="240.90" x2="479.01" y2="245.70" stroke="#111" stroke-width="1.0"/>
<line x1="480.74" y1="240.90" x2="480.74" y2="245.70" stroke="#111" stroke-width="1.0"/>
<line x1="482.14" y1="240.90" x2="482.14" y2="245.70" stroke="#111" stroke-width="1.0"/>
<line x1="483.33" y1="240.90" x2="483.33" y2="245.70" stroke="#111" stroke-width="1.0"/>
<line x1="484.36" y1="240.90" x2="484.36" y2="245.70" stroke="#111" stroke-width="1.0"/>
<line x1="485.27" y1="240.90" x2="485.27" y2="245.70" stroke="#111" stroke-width="1.0"/>
<line x1="486.09" y1="240.90" x2="486.09" y2="248.20" stroke="#111" stroke-width="1.0"/>
<line x1="491.43" y1="240.90" x2="491.43" y2="245.70" stroke="#111" stroke-width="1.0"/>
<line x1="494.56" y1="240.90" x2="494.56" y2="245.70" stroke="#111" stroke-width="1.0"/>
<line x1="496.78" y1="240.90" x2="496.78" y2="245.70" stroke="#111" stroke-width="1.0"/>
<line x1="498.51" y1="240.90" x2="498.51" y2="245.70" stroke="#111" stroke-width="1.0"/>
<line x1="499.91" y1="240.90" x2="499.91" y2="245.70" stroke="#111" stroke-width="1.0"/>
<line x1="501.10" y1="240.90" x2="501.10" y2="245.70" stroke="#111" stroke-width="1.0"/>
<line x1="502.13" y1="240.90" x2="502.13" y2="245.70" stroke="#111" stroke-width="1.0"/>
<line x1="503.04" y1="240.90" x2="503.04" y2="245.70" stroke="#111" stroke-width="1.0"/>
<line x1="503.86" y1="240.90" x2="503.86" y2="248.20" stroke="#111" stroke-width="1.0"/>
<line x1="509.21" y1="240.90" x2="509.21" y2="245.70" stroke="#111" stroke-width="1.0"/>

<line x1="220.60" y1="305.30" x2="220.60" y2="368.30" stroke="#111" stroke-width="1.3"/>
<line x1="216.80" y1="368.30" x2="220.60" y2="368.30" stroke="#111" stroke-width="1.1"/>
<line x1="216.80" y1="353.30" x2="220.60" y2="353.30" stroke="#111" stroke-width="1.1"/>
<line x1="216.80" y1="338.30" x2="220.60" y2="338.30" stroke="#111" stroke-width="1.1"/>
<line x1="216.80" y1="323.30" x2="220.60" y2="323.30" stroke="#111" stroke-width="1.1"/>
<line x1="216.80" y1="308.30" x2="220.60" y2="308.30" stroke="#111" stroke-width="1.1"/>
<line x1="220.60" y1="368.30" x2="376.30" y2="368.30" stroke="#111" stroke-width="1.3"/>
<line x1="294.50" y1="304.80" x2="294.50" y2="371.00" stroke="#222" stroke-width="0.9" stroke-dasharray="2.8,2.2"/>
<rect x="227.00" y="366.14" width="5.0" height="2.16" fill="#111" stroke="#5a5490" stroke-width="0.6"/>
<line x1="229.50" y1="365.60" x2="229.50" y2="366.68" stroke="#111" stroke-width="0.9"/>
<line x1="227.10" y1="365.60" x2="231.90" y2="365.60" stroke="#111" stroke-width="1.0"/>
<line x1="227.10" y1="366.68" x2="231.90" y2="366.68" stroke="#111" stroke-width="0.8"/>
<line x1="229.50" y1="368.30" x2="229.50" y2="371.30" stroke="#111" stroke-width="0.9"/>
<rect x="243.90" y="359.42" width="5.0" height="8.88" fill="#7a71b0" stroke="#5a5490" stroke-width="0.6"/>
<line x1="246.40" y1="358.82" x2="246.40" y2="360.02" stroke="#111" stroke-width="0.9"/>
<line x1="243.40" y1="358.82" x2="249.40" y2="358.82" stroke="#111" stroke-width="1.0"/>
<line x1="243.40" y1="360.02" x2="249.40" y2="360.02" stroke="#111" stroke-width="0.8"/>
<line x1="246.40" y1="368.30" x2="246.40" y2="371.30" stroke="#111" stroke-width="0.9"/>
<rect x="261.50" y="354.14" width="5.0" height="14.16" fill="#7a71b0" stroke="#5a5490" stroke-width="0.6"/>
<line x1="264.00" y1="352.34" x2="264.00" y2="355.94" stroke="#111" stroke-width="0.9"/>
<line x1="261.00" y1="352.34" x2="267.00" y2="352.34" stroke="#111" stroke-width="1.0"/>
<line x1="261.00" y1="355.94" x2="267.00" y2="355.94" stroke="#111" stroke-width="0.8"/>
<line x1="264.00" y1="368.30" x2="264.00" y2="371.30" stroke="#111" stroke-width="0.9"/>
<rect x="279.00" y="351.02" width="5.0" height="17.28" fill="#7a71b0" stroke="#5a5490" stroke-width="0.6"/>
<line x1="281.50" y1="349.64" x2="281.50" y2="352.40" stroke="#111" stroke-width="0.9"/>
<line x1="278.50" y1="349.64" x2="284.50" y2="349.64" stroke="#111" stroke-width="1.0"/>
<line x1="278.50" y1="352.40" x2="284.50" y2="352.40" stroke="#111" stroke-width="0.8"/>
<line x1="281.50" y1="368.30" x2="281.50" y2="371.30" stroke="#111" stroke-width="0.9"/>
<rect x="313.20" y="366.14" width="5.0" height="2.16" fill="#111" stroke="#5a5490" stroke-width="0.6"/>
<line x1="315.70" y1="365.60" x2="315.70" y2="366.68" stroke="#111" stroke-width="0.9"/>
<line x1="313.30" y1="365.60" x2="318.10" y2="365.60" stroke="#111" stroke-width="1.0"/>
<line x1="313.30" y1="366.68" x2="318.10" y2="366.68" stroke="#111" stroke-width="0.8"/>
<line x1="315.70" y1="368.30" x2="315.70" y2="371.30" stroke="#111" stroke-width="0.9"/>
<rect x="330.60" y="348.50" width="5.0" height="19.80" fill="#7a71b0" stroke="#5a5490" stroke-width="0.6"/>
<line x1="333.10" y1="347.66" x2="333.10" y2="349.34" stroke="#111" stroke-width="0.9"/>
<line x1="330.10" y1="347.66" x2="336.10" y2="347.66" stroke="#111" stroke-width="1.0"/>
<line x1="330.10" y1="349.34" x2="336.10" y2="349.34" stroke="#111" stroke-width="0.8"/>
<line x1="333.10" y1="368.30" x2="333.10" y2="371.30" stroke="#111" stroke-width="0.9"/>
<rect x="348.00" y="340.52" width="5.0" height="27.78" fill="#7a71b0" stroke="#5a5490" stroke-width="0.6"/>
<line x1="350.50" y1="339.98" x2="350.50" y2="341.06" stroke="#111" stroke-width="0.9"/>
<line x1="347.50" y1="339.98" x2="353.50" y2="339.98" stroke="#111" stroke-width="1.0"/>
<line x1="347.50" y1="341.06" x2="353.50" y2="341.06" stroke="#111" stroke-width="0.8"/>
<line x1="350.50" y1="368.30" x2="350.50" y2="371.30" stroke="#111" stroke-width="0.9"/>
<rect x="365.10" y="323.78" width="5.0" height="44.52" fill="#7a71b0" stroke="#5a5490" stroke-width="0.6"/>
<line x1="367.60" y1="322.88" x2="367.60" y2="324.68" stroke="#111" stroke-width="0.9"/>
<line x1="364.60" y1="322.88" x2="370.60" y2="322.88" stroke="#111" stroke-width="1.0"/>
<line x1="364.60" y1="324.68" x2="370.60" y2="324.68" stroke="#111" stroke-width="0.8"/>
<line x1="367.60" y1="368.30" x2="367.60" y2="371.30" stroke="#111" stroke-width="0.9"/>
<g style="filter:grayscale(1)" stroke="#161616" stroke-width="0.12">
<text x="77.00" y="133.05" font-size="6.6" text-anchor="end" fill="#161616">0</text>
<text x="77.00" y="112.95" font-size="6.6" text-anchor="end" fill="#161616">500</text>
<text x="77.00" y="92.85" font-size="6.6" text-anchor="end" fill="#161616">1,000</text>
<text x="77.00" y="72.75" font-size="6.6" text-anchor="end" fill="#161616">1,500</text>
<text transform="translate(54.90,94.85) rotate(-90)" font-size="9" text-anchor="middle" fill="#161616" textLength="19.2" lengthAdjust="spacingAndGlyphs" font-family='"Liberation Sans", sans-serif'>Count</text>
<text x="96.55" y="146.60" font-size="7.2" text-anchor="middle" fill="#161616">10<tspan font-size="4.4" dy="-3.3">2</tspan></text>
<text x="114.14" y="146.60" font-size="7.2" text-anchor="middle" fill="#161616">10<tspan font-size="4.4" dy="-3.3">3</tspan></text>
<text x="131.74" y="146.60" font-size="7.2" text-anchor="middle" fill="#161616">10<tspan font-size="4.4" dy="-3.3">4</tspan></text>
<text x="149.34" y="146.60" font-size="7.2" text-anchor="middle" fill="#161616">10<tspan font-size="4.4" dy="-3.3">5</tspan></text>
<text x="105.30" y="94.00" font-size="8.2" text-anchor="middle" fill="#161616">3%</text>
<text x="192.80" y="133.05" font-size="6.6" text-anchor="end" fill="#161616">0</text>
<text x="192.80" y="125.69" font-size="6.6" text-anchor="end" fill="#161616">50</text>
<text x="192.80" y="118.33" font-size="6.6" text-anchor="end" fill="#161616">100</text>
<text x="192.80" y="110.97" font-size="6.6" text-anchor="end" fill="#161616">150</text>
<text x="192.80" y="103.61" font-size="6.6" text-anchor="end" fill="#161616">200</text>
<text x="192.80" y="96.25" font-size="6.6" text-anchor="end" fill="#161616">250</text>
<text x="192.80" y="88.89" font-size="6.6" text-anchor="end" fill="#161616">300</text>
<text x="192.80" y="81.53" font-size="6.6" text-anchor="end" fill="#161616">350</text>
<text x="192.80" y="74.17" font-size="6.6" text-anchor="end" fill="#161616">400</text>
<text x="192.80" y="66.81" font-size="6.6" text-anchor="end" fill="#161616">450</text>
<text transform="translate(175.90,94.85) rotate(-90)" font-size="9" text-anchor="middle" fill="#161616" textLength="19.2" lengthAdjust="spacingAndGlyphs" font-family='"Liberation Sans", sans-serif'>Count</text>
<text x="212.38" y="146.60" font-size="7.2" text-anchor="middle" fill="#161616">10<tspan font-size="4.4" dy="-3.3">2</tspan></text>
<text x="230.02" y="146.60" font-size="7.2" text-anchor="middle" fill="#161616">10<tspan font-size="4.4" dy="-3.3">3</tspan></text>
<text x="247.67" y="146.60" font-size="7.2" text-anchor="middle" fill="#161616">10<tspan font-size="4.4" dy="-3.3">4</tspan></text>
<text x="265.32" y="146.60" font-size="7.2" text-anchor="middle" fill="#161616">10<tspan font-size="4.4" dy="-3.3">5</tspan></text>
<text x="221.90" y="94.00" font-size="8.2" text-anchor="middle" fill="#161616">14%</text>
<text x="307.80" y="133.05" font-size="6.6" text-anchor="end" fill="#161616">0</text>
<text x="307.80" y="124.59" font-size="6.6" text-anchor="end" fill="#161616">100</text>
<text x="307.80" y="116.13" font-size="6.6" text-anchor="end" fill="#161616">200</text>
<text x="307.80" y="107.67" font-size="6.6" text-anchor="end" fill="#161616">300</text>
<text x="307.80" y="99.21" font-size="6.6" text-anchor="end" fill="#161616">400</text>
<text x="307.80" y="90.75" font-size="6.6" text-anchor="end" fill="#161616">500</text>
<text x="307.80" y="82.29" font-size="6.6" text-anchor="end" fill="#161616">600</text>
<text x="307.80" y="73.83" font-size="6.6" text-anchor="end" fill="#161616">700</text>
<text x="307.80" y="65.37" font-size="6.6" text-anchor="end" fill="#161616">800</text>
<text transform="translate(291.90,94.85) rotate(-90)" font-size="9" text-anchor="middle" fill="#161616" textLength="19.2" lengthAdjust="spacingAndGlyphs" font-family='"Liberation Sans", sans-serif'>Count</text>
<text x="329.37" y="146.60" font-size="7.2" text-anchor="middle" fill="#161616">10<tspan font-size="4.4" dy="-3.3">2</tspan></text>
<text x="347.19" y="146.60" font-size="7.2" text-anchor="middle" fill="#161616">10<tspan font-size="4.4" dy="-3.3">3</tspan></text>
<text x="365.01" y="146.60" font-size="7.2" text-anchor="middle" fill="#161616">10<tspan font-size="4.4" dy="-3.3">4</tspan></text>
<text x="382.83" y="146.60" font-size="7.2" text-anchor="middle" fill="#161616">10<tspan font-size="4.4" dy="-3.3">5</tspan></text>
<text x="338.90" y="94.00" font-size="8.2" text-anchor="middle" fill="#161616">24%</text>
<text x="430.90" y="133.05" font-size="6.6" text-anchor="end" fill="#161616">0</text>
<text x="430.90" y="116.25" font-size="6.6" text-anchor="end" fill="#161616">250</text>
<text x="430.90" y="99.45" font-size="6.6" text-anchor="end" fill="#161616">500</text>
<text x="430.90" y="82.65" font-size="6.6" text-anchor="end" fill="#161616">750</text>
<text x="430.90" y="65.85" font-size="6.6" text-anchor="end" fill="#161616">1,000</text>
<text transform="translate(408.70,94.85) rotate(-90)" font-size="9" text-anchor="middle" fill="#161616" textLength="19.2" lengthAdjust="spacingAndGlyphs" font-family='"Liberation Sans", sans-serif'>Count</text>
<text x="451.13" y="146.60" font-size="7.2" text-anchor="middle" fill="#161616">10<tspan font-size="4.4" dy="-3.3">2</tspan></text>
<text x="468.88" y="146.60" font-size="7.2" text-anchor="middle" fill="#161616">10<tspan font-size="4.4" dy="-3.3">3</tspan></text>
<text x="486.62" y="146.60" font-size="7.2" text-anchor="middle" fill="#161616">10<tspan font-size="4.4" dy="-3.3">4</tspan></text>
<text x="504.37" y="146.60" font-size="7.2" text-anchor="middle" fill="#161616">10<tspan font-size="4.4" dy="-3.3">5</tspan></text>
<text x="460.60" y="94.00" font-size="8.2" text-anchor="middle" fill="#161616">30%</text>
<text x="76.90" y="243.15" font-size="6.6" text-anchor="end" fill="#161616">0</text>
<text x="76.90" y="227.05" font-size="6.6" text-anchor="end" fill="#161616">250</text>
<text x="76.90" y="210.95" font-size="6.6" text-anchor="end" fill="#161616">500</text>
<text x="76.90" y="194.85" font-size="6.6" text-anchor="end" fill="#161616">750</text>
<text x="76.90" y="178.75" font-size="6.6" text-anchor="end" fill="#161616">1,000</text>
<text transform="translate(55.20,204.90) rotate(-90)" font-size="9" text-anchor="middle" fill="#161616" textLength="19.2" lengthAdjust="spacingAndGlyphs" font-family='"Liberation Sans", sans-serif'>Count</text>
<text x="96.92" y="256.70" font-size="7.2" text-anchor="middle" fill="#161616">10<tspan font-size="4.4" dy="-3.3">2</tspan></text>
<text x="114.64" y="256.70" font-size="7.2" text-anchor="middle" fill="#161616">10<tspan font-size="4.4" dy="-3.3">3</tspan></text>
<text x="132.36" y="256.70" font-size="7.2" text-anchor="middle" fill="#161616">10<tspan font-size="4.4" dy="-3.3">4</tspan></text>
<text x="150.08" y="256.70" font-size="7.2" text-anchor="middle" fill="#161616">10<tspan font-size="4.4" dy="-3.3">5</tspan></text>
<text x="107.20" y="198.90" font-size="8.2" text-anchor="middle" fill="#161616">3%</text>
<text x="191.80" y="243.15" font-size="6.6" text-anchor="end" fill="#161616">0</text>
<text x="191.80" y="234.18" font-size="6.6" text-anchor="end" fill="#161616">100</text>
<text x="191.80" y="225.21" font-size="6.6" text-anchor="end" fill="#161616">200</text>
<text x="191.80" y="216.24" font-size="6.6" text-anchor="end" fill="#161616">300</text>
<text x="191.80" y="207.27" font-size="6.6" text-anchor="end" fill="#161616">400</text>
<text x="191.80" y="198.30" font-size="6.6" text-anchor="end" fill="#161616">500</text>
<text x="191.80" y="189.33" font-size="6.6" text-anchor="end" fill="#161616">600</text>
<text x="191.80" y="180.36" font-size="6.6" text-anchor="end" fill="#161616">700</text>
<text transform="translate(176.10,204.90) rotate(-90)" font-size="9" text-anchor="middle" fill="#161616" textLength="19.2" lengthAdjust="spacingAndGlyphs" font-family='"Liberation Sans", sans-serif'>Count</text>
<text x="212.60" y="256.70" font-size="7.2" text-anchor="middle" fill="#161616">10<tspan font-size="4.4" dy="-3.3">2</tspan></text>
<text x="230.30" y="256.70" font-size="7.2" text-anchor="middle" fill="#161616">10<tspan font-size="4.4" dy="-3.3">3</tspan></text>
<text x="248.00" y="256.70" font-size="7.2" text-anchor="middle" fill="#161616">10<tspan font-size="4.4" dy="-3.3">4</tspan></text>
<text x="265.69" y="256.70" font-size="7.2" text-anchor="middle" fill="#161616">10<tspan font-size="4.4" dy="-3.3">5</tspan></text>
<text x="222.80" y="198.90" font-size="8.2" text-anchor="middle" fill="#161616">31%</text>
<text x="307.80" y="243.15" font-size="6.6" text-anchor="end" fill="#161616">0</text>
<text x="307.80" y="233.12" font-size="6.6" text-anchor="end" fill="#161616">100</text>
<text x="307.80" y="223.09" font-size="6.6" text-anchor="end" fill="#161616">200</text>
<text x="307.80" y="213.06" font-size="6.6" text-anchor="end" fill="#161616">300</text>
<text x="307.80" y="203.03" font-size="6.6" text-anchor="end" fill="#161616">400</text>
<text x="307.80" y="193.00" font-size="6.6" text-anchor="end" fill="#161616">500</text>
<text x="307.80" y="182.97" font-size="6.6" text-anchor="end" fill="#161616">600</text>
<text transform="translate(291.40,204.90) rotate(-90)" font-size="9" text-anchor="middle" fill="#161616" textLength="19.2" lengthAdjust="spacingAndGlyphs" font-family='"Liberation Sans", sans-serif'>Count</text>
<text x="328.82" y="256.70" font-size="7.2" text-anchor="middle" fill="#161616">10<tspan font-size="4.4" dy="-3.3">2</tspan></text>
<text x="346.54" y="256.70" font-size="7.2" text-anchor="middle" fill="#161616">10<tspan font-size="4.4" dy="-3.3">3</tspan></text>
<text x="364.26" y="256.70" font-size="7.2" text-anchor="middle" fill="#161616">10<tspan font-size="4.4" dy="-3.3">4</tspan></text>
<text x="381.98" y="256.70" font-size="7.2" text-anchor="middle" fill="#161616">10<tspan font-size="4.4" dy="-3.3">5</tspan></text>
<text x="339.40" y="198.90" font-size="8.2" text-anchor="middle" fill="#161616">45%</text>
<text x="430.90" y="243.15" font-size="6.6" text-anchor="end" fill="#161616">0</text>
<text x="430.90" y="233.31" font-size="6.6" text-anchor="end" fill="#161616">100</text>
<text x="430.90" y="223.47" font-size="6.6" text-anchor="end" fill="#161616">200</text>
<text x="430.90" y="213.63" font-size="6.6" text-anchor="end" fill="#161616">300</text>
<text x="430.90" y="203.79" font-size="6.6" text-anchor="end" fill="#161616">400</text>
<text x="430.90" y="193.95" font-size="6.6" text-anchor="end" fill="#161616">500</text>
<text x="430.90" y="184.11" font-size="6.6" text-anchor="end" fill="#161616">600</text>
<text x="430.90" y="174.27" font-size="6.6" text-anchor="end" fill="#161616">700</text>
<text transform="translate(408.40,204.90) rotate(-90)" font-size="9" text-anchor="middle" fill="#161616" textLength="19.2" lengthAdjust="spacingAndGlyphs" font-family='"Liberation Sans", sans-serif'>Count</text>
<text x="450.84" y="256.70" font-size="7.2" text-anchor="middle" fill="#161616">10<tspan font-size="4.4" dy="-3.3">2</tspan></text>
<text x="468.61" y="256.70" font-size="7.2" text-anchor="middle" fill="#161616">10<tspan font-size="4.4" dy="-3.3">3</tspan></text>
<text x="486.39" y="256.70" font-size="7.2" text-anchor="middle" fill="#161616">10<tspan font-size="4.4" dy="-3.3">4</tspan></text>
<text x="504.16" y="256.70" font-size="7.2" text-anchor="middle" fill="#161616">10<tspan font-size="4.4" dy="-3.3">5</tspan></text>
<text x="461.30" y="198.90" font-size="8.2" text-anchor="middle" fill="#161616">72%</text>
<text x="91.00" y="118.80" font-size="8.3" text-anchor="start" fill="#161616" font-style="italic" textLength="28.8" lengthAdjust="spacingAndGlyphs">Ki-67 low</text>
<text x="91.20" y="219.80" font-size="8.3" text-anchor="start" fill="#161616" font-style="italic" textLength="28.7" lengthAdjust="spacingAndGlyphs">Ki-67 low</text>
<text x="7.70" y="16.50" font-size="11.2" text-anchor="start" fill="#111" font-weight="bold" stroke="#111" stroke-width="0.45">H</text>
<text x="235.60" y="31.30" font-size="9.6" text-anchor="start" fill="#161616" textLength="126.8" lengthAdjust="spacingAndGlyphs">BCMA iPSC-T : U266 MM Ratio</text>
<text x="122.55" y="50.20" font-size="9.5" text-anchor="middle" fill="#161616" textLength="12.2" lengthAdjust="spacingAndGlyphs">1:0</text>
<text x="238.45" y="50.20" font-size="9.5" text-anchor="middle" fill="#161616" textLength="12.2" lengthAdjust="spacingAndGlyphs">1:5</text>
<text x="355.70" y="50.20" font-size="9.5" text-anchor="middle" fill="#161616" textLength="12.2" lengthAdjust="spacingAndGlyphs">1:1</text>
<text x="477.35" y="50.20" font-size="9.5" text-anchor="middle" fill="#161616" textLength="12.2" lengthAdjust="spacingAndGlyphs">5:1</text>
<text x="33.90" y="97.50" font-size="9.2" text-anchor="end" fill="#161616">4 hrs</text>
<text x="33.40" y="207.80" font-size="9.2" text-anchor="end" fill="#161616">16 hrs</text>
<text x="214.80" y="370.80" font-size="7.2" text-anchor="end" fill="#161616">0</text>
<text x="214.80" y="355.80" font-size="7.2" text-anchor="end" fill="#161616">25</text>
<text x="214.80" y="340.80" font-size="7.2" text-anchor="end" fill="#161616">50</text>
<text x="214.80" y="325.80" font-size="7.2" text-anchor="end" fill="#161616">75</text>
<text x="214.80" y="310.80" font-size="7.2" text-anchor="end" fill="#161616">100</text>
<text x="229.20" y="380.60" font-size="7.4" text-anchor="middle" fill="#161616" textLength="9.6" lengthAdjust="spacingAndGlyphs">1:0</text>
<text x="246.80" y="380.60" font-size="7.4" text-anchor="middle" fill="#161616" textLength="9.6" lengthAdjust="spacingAndGlyphs">1:5</text>
<text x="264.00" y="380.60" font-size="7.4" text-anchor="middle" fill="#161616" textLength="9.6" lengthAdjust="spacingAndGlyphs">1:1</text>
<text x="280.90" y="380.60" font-size="7.4" text-anchor="middle" fill="#161616" textLength="9.6" lengthAdjust="spacingAndGlyphs">5:1</text>
<text x="316.00" y="380.60" font-size="7.4" text-anchor="middle" fill="#161616" textLength="9.6" lengthAdjust="spacingAndGlyphs">1:0</text>
<text x="333.20" y="380.60" font-size="7.4" text-anchor="middle" fill="#161616" textLength="9.6" lengthAdjust="spacingAndGlyphs">1:5</text>
<text x="350.80" y="380.60" font-size="7.4" text-anchor="middle" fill="#161616" textLength="9.6" lengthAdjust="spacingAndGlyphs">1:1</text>
<text x="367.70" y="380.60" font-size="7.4" text-anchor="middle" fill="#161616" textLength="9.6" lengthAdjust="spacingAndGlyphs">5:1</text>
<text x="298.30" y="285.40" font-size="9.6" text-anchor="middle" fill="#161616" textLength="103.8" lengthAdjust="spacingAndGlyphs">BCMA iPSC-T : U266 MM</text>
<text x="298.50" y="300.00" font-size="9.6" text-anchor="middle" fill="#161616" textLength="73.3" lengthAdjust="spacingAndGlyphs">Hours Co-cultured</text>
<text x="257.70" y="316.90" font-size="7.0" text-anchor="middle" fill="#161616" textLength="23.4" lengthAdjust="spacingAndGlyphs">4 Hours</text>
<text x="331.60" y="317.10" font-size="7.0" text-anchor="middle" fill="#161616" textLength="27.2" lengthAdjust="spacingAndGlyphs">16 Hours</text>
<text x="298.50" y="393.00" font-size="9.2" text-anchor="middle" fill="#161616" textLength="59.7" lengthAdjust="spacingAndGlyphs">Effector:Target ratio</text>
<text transform="translate(197.6,337.6) rotate(-90) scale(0.86,1)" font-size="8.6" text-anchor="middle" fill="#161616">% Ki67<tspan font-size="5.5" dx="0.6" dy="-3.4">+</tspan></text>
</g>
<rect x="0.5" y="0.5" width="519" height="401" fill="none" stroke="#4a4a4a" stroke-width="1"/>
</svg>
</body></html>
